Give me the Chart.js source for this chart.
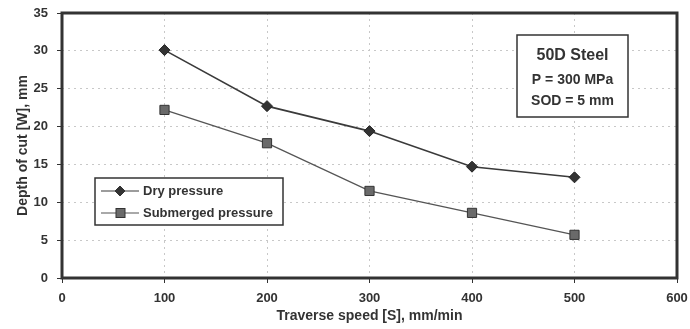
<!DOCTYPE html>
<html>
<head>
<meta charset="utf-8">
<script src="https://cdn.jsdelivr.net/npm/chart.js@4/dist/chart.umd.min.js"></script>
<style>
  html, body { margin: 0; padding: 0; background: #fff; }
  #wrap { width: 690px; height: 329px; }
</style>
</head>
<body>
<div id="wrap"><canvas id="c" width="690" height="329"></canvas></div>
<script>
const speeds = [100, 200, 300, 400, 500];
const dryDepth = [30.1, 22.7, 19.4, 14.7, 13.3];
const submergedDepth = [22.2, 17.8, 11.5, 8.6, 5.7];
const seriesNames = ['Dry pressure', 'Submerged pressure'];
const noteLines = ['50D Steel', 'P = 300 MPa', 'SOD = 5 mm'];

const ink = '#333';
const font = 'Liberation Sans, Arial, sans-serif';

const pts = (ys) => speeds.map((x, i) => ({ x, y: ys[i] }));

// legend + annotation box
const boxes = {
  id: 'boxes',
  afterDraw(chart) {
    const { ctx, chartArea: a } = chart;
    ctx.save();

    // legend
    const lx = a.left + 33, ly = a.top + 165, lw = 188, lh = 47;
    ctx.fillStyle = '#fff';
    ctx.fillRect(lx, ly, lw, lh);
    ctx.strokeStyle = ink;
    ctx.lineWidth = 1.5;
    ctx.strokeRect(lx, ly, lw, lh);
    ctx.font = 'bold 13px ' + font;
    ctx.textBaseline = 'middle';
    chart.data.datasets.forEach((ds, i) => {
      const y = ly + 13 + i * 22;
      ctx.strokeStyle = ds.borderColor;
      ctx.lineWidth = 1.2;
      ctx.beginPath(); ctx.moveTo(lx + 6, y); ctx.lineTo(lx + 44, y); ctx.stroke();
      ctx.fillStyle = ds.pointBackgroundColor;
      ctx.strokeStyle = ink;
      ctx.lineWidth = 1;
      if (ds.pointStyle === 'rectRot') {
        ctx.beginPath();
        ctx.moveTo(lx + 25, y - 5); ctx.lineTo(lx + 30, y); ctx.lineTo(lx + 25, y + 5); ctx.lineTo(lx + 20, y);
        ctx.closePath(); ctx.fill(); ctx.stroke();
      } else {
        ctx.fillRect(lx + 21, y - 4.5, 9, 9); ctx.strokeRect(lx + 21, y - 4.5, 9, 9);
      }
      ctx.fillStyle = ink;
      ctx.textAlign = 'left';
      ctx.fillText(seriesNames[i], lx + 48, y);
    });

    // annotation
    const bx = a.right - 160, by = a.top + 22, bw = 111, bh = 82;
    ctx.fillStyle = '#fff';
    ctx.fillRect(bx, by, bw, bh);
    ctx.strokeStyle = ink;
    ctx.lineWidth = 1.5;
    ctx.strokeRect(bx, by, bw, bh);
    ctx.fillStyle = ink;
    ctx.textAlign = 'center';
    ctx.font = 'bold 16px ' + font;
    ctx.fillText(noteLines[0], bx + bw / 2, by + 21);
    ctx.font = 'bold 14px ' + font;
    ctx.fillText(noteLines[1], bx + bw / 2, by + 45);
    ctx.fillText(noteLines[2], bx + bw / 2, by + 66);

    // heavy frame
    ctx.lineWidth = 3;
    ctx.strokeStyle = ink;
    ctx.strokeRect(a.left, a.top, a.right - a.left, a.bottom - a.top);
    ctx.restore();
  }
};

new Chart(document.getElementById('c'), {
  type: 'scatter',
  data: {
    datasets: [
      {
        label: seriesNames[0],
        data: pts(dryDepth),
        showLine: true,
        borderColor: '#3a3a3a',
        borderWidth: 1.6,
        pointStyle: 'rectRot',
        pointRadius: 5.5,
        pointBackgroundColor: '#333',
        pointBorderColor: '#222',
        pointBorderWidth: 1,
      },
      {
        label: seriesNames[1],
        data: pts(submergedDepth),
        showLine: true,
        borderColor: '#555',
        borderWidth: 1.3,
        pointStyle: 'rect',
        pointRadius: 6.5,
        pointBackgroundColor: '#6a6a6a',
        pointBorderColor: '#333',
        pointBorderWidth: 1,
      }
    ]
  },
  options: {
    responsive: false,
    animation: false,
    layout: { padding: { left: 15, right: 13, top: 13, bottom: 0 } },
    plugins: { legend: { display: false }, tooltip: { enabled: false } },
    scales: {
      x: {
        type: 'linear', min: 0, max: 600,
        afterFit(s) { s.height = 51; s.paddingLeft = 0; s.paddingRight = 0; },
        ticks: { stepSize: 100, color: ink, font: { family: font, size: 13, weight: 'bold' }, padding: 8 },
        grid: { color: '#c8c8c8', lineWidth: 1, tickLength: 5, tickColor: ink },
        border: { dash: [2, 4], display: false },
        title: { display: true, text: 'Traverse speed [S], mm/min', color: ink, font: { family: font, size: 14, weight: 'bold' }, padding: { top: 0 } }
      },
      y: {
        min: 0, max: 35,
        afterFit(s) { s.width = 47; s.paddingTop = 0; s.paddingBottom = 0; },
        ticks: { stepSize: 5, color: ink, font: { family: font, size: 13, weight: 'bold' }, padding: 9 },
        grid: { color: '#c8c8c8', lineWidth: 1, tickLength: 5, tickColor: ink },
        border: { dash: [2, 4], display: false },
        title: { display: true, text: 'Depth of cut [W], mm', color: ink, font: { family: font, size: 14, weight: 'bold' }, padding: { top: 0, bottom: 0 } }
      }
    }
  },
  plugins: [boxes]
});
</script>
</body>
</html>
